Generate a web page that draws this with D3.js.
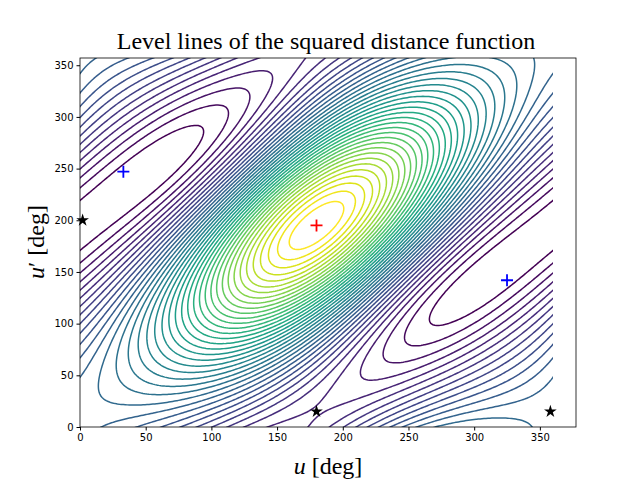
<!DOCTYPE html>
<html>
<head>
<meta charset="utf-8">
<script src="https://cdn.jsdelivr.net/npm/d3@7"></script>
<style>
body { margin: 0; background: #fff; }
text { font-family: "DejaVu Sans", sans-serif; }
</style>
</head>
<body>
<script>
// field model: squared distance between two eccentric orbits (angles in deg)
var orbit1 = [1.0, 0.3];        // semi-axis, eccentricity
var orbit2 = [0.7, 0.2, 15];    // semi-axis, eccentricity, phase
var coupling = [0.97, 15];      // weight and phase of the cross term
var nLevels = 40;

var minima = [[33, 247], [325, 142]];
var maxima = [[180, 195]];
var saddles = [[2, 200], [180, 15], [358, 15]];
var xTicks = [0, 50, 100, 150, 200, 250, 300, 350];
var yTicks = [0, 50, 100, 150, 200, 250, 300, 350];

var W = 640, H = 480;
var x = d3.scaleLinear().domain([0, 377.5]).range([80, 576]);
var y = d3.scaleLinear().domain([0, 357]).range([427, 58]);

var rad = Math.PI / 180;
function f(u, v) {
  var r1 = orbit1[0] * (1 - orbit1[1] * Math.cos(u * rad));
  var r2 = orbit2[0] * (1 - orbit2[1] * Math.cos((v - orbit2[2]) * rad));
  return r1 * r1 + r2 * r2 + 2 * coupling[0] * r1 * r2 * Math.cos((u - v + coupling[1]) * rad);
}

var step = 1.5, start = -6, n = Math.round((372 - start) / step) + 1;
var values = new Array(n * n);
for (var j = 0; j < n; j++) {
  for (var i = 0; i < n; i++) {
    values[i + j * n] = f(start + i * step, start + j * step);
  }
}
var vmin = d3.min(values), vmax = d3.max(values);
var thresholds = d3.range(1, nLevels).map(function(k) {
  return vmin + (vmax - vmin) * k / nLevels;
});
var color = d3.scaleSequential(d3.interpolateViridis).domain([thresholds[0], thresholds[thresholds.length - 1]]);

var contours = d3.contours().size([n, n]).thresholds(thresholds)(values);

var svg = d3.select("body").append("svg").attr("width", W).attr("height", H);

svg.append("clipPath").attr("id", "clip").append("rect")
  .attr("x", x(0)).attr("y", y(357))
  .attr("width", x(360) - x(0)).attr("height", y(0) - y(357));

var proj = d3.geoTransform({
  point: function(px, py) {
    this.stream.point(x(start + (px - 0.5) * step), y(start + (py - 0.5) * step));
  }
});
var path = d3.geoPath(proj);

svg.append("g").attr("clip-path", "url(#clip)")
  .selectAll("path")
  .data(contours)
  .enter()
  .append("path")
  .attr("d", path)
  .attr("fill", "none")
  .attr("stroke", function(d) { return color(d.value); })
  .attr("stroke-width", 1.5);

// markers
function plus(g, pts, col) {
  g.selectAll(null).data(pts).enter().append("path")
    .attr("d", function(d) {
      var cx = x(d[0]), cy = y(d[1]);
      return "M" + (cx - 6) + "," + cy + "H" + (cx + 6) + "M" + cx + "," + (cy - 6) + "V" + (cy + 6);
    })
    .attr("stroke", col).attr("stroke-width", 1.8);
}
var mk = svg.append("g");
plus(mk, minima, "blue");
plus(mk, maxima, "red");
mk.selectAll(null).data(saddles).enter().append("path")
  .attr("d", d3.symbol(d3.symbolStar, 50))
  .attr("transform", function(d) { return "translate(" + x(d[0]) + "," + y(d[1]) + ")"; })
  .attr("fill", "black");

// frame and axes
svg.append("rect").attr("x", 80).attr("y", 58).attr("width", 496).attr("height", 369)
  .attr("fill", "none").attr("stroke", "black").attr("stroke-width", 0.8);

var xa = svg.append("g").attr("transform", "translate(0,427)")
  .call(d3.axisBottom(x).tickValues(xTicks).tickSize(3.5).tickPadding(3));
var ya = svg.append("g").attr("transform", "translate(80,0)")
  .call(d3.axisLeft(y).tickValues(yTicks).tickSize(3.5).tickPadding(3));
[xa, ya].forEach(function(a) {
  a.select(".domain").remove();
  a.selectAll("text").attr("font-size", 10).attr("font-family", "DejaVu Sans").attr("fill", "black");
});

svg.append("text").attr("x", 326).attr("y", 49).attr("text-anchor", "middle")
  .style("font-family", "'Liberation Serif', serif").attr("font-size", 24)
  .text("Level lines of the squared distance function");
svg.append("text").attr("x", 328).attr("y", 474).attr("text-anchor", "middle")
  .style("font-family", "'Liberation Serif', serif").attr("font-size", 24)
  .html("<tspan font-style='italic'>u</tspan> [deg]");
svg.append("text").attr("transform", "translate(44,242) rotate(-90)").attr("text-anchor", "middle")
  .style("font-family", "'Liberation Serif', serif").attr("font-size", 24)
  .html("<tspan font-style='italic'>u</tspan>′ [deg]");
</script>
</body>
</html>
